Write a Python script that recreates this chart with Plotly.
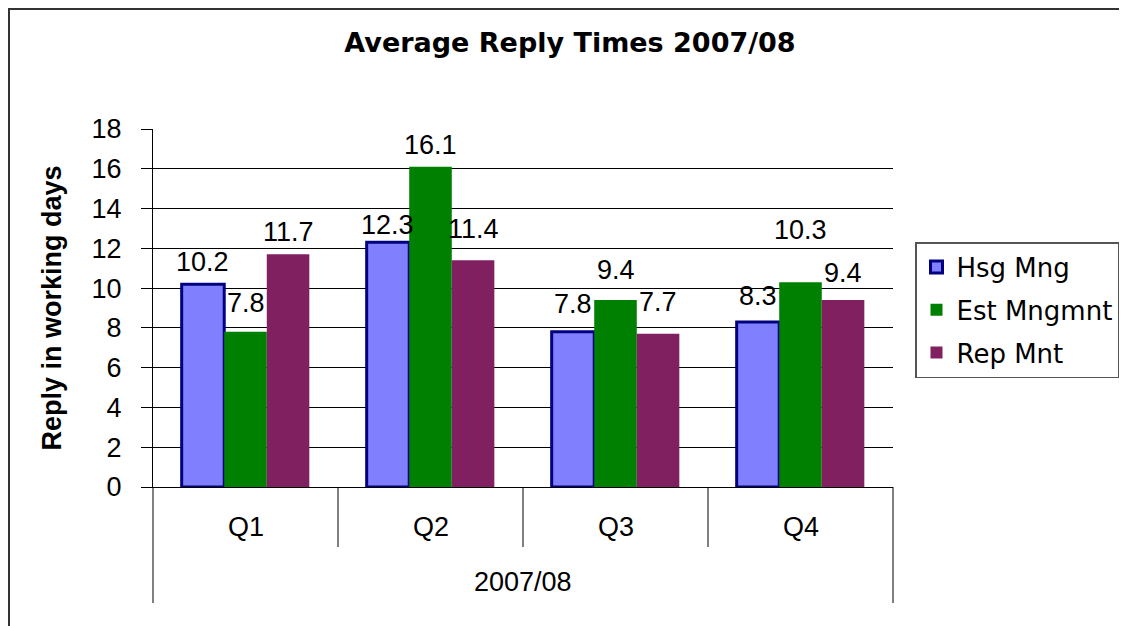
import plotly.graph_objects as go

# ---- data ----
quarters = ["Q1", "Q2", "Q3", "Q4"]
period = "2007/08"
series_names = ["Hsg Mng", "Est Mngmnt", "Rep Mnt"]
hsg_mng = [10.2, 12.3, 7.8, 8.3]
est_mngmnt = [7.8, 16.1, 9.4, 10.3]
rep_mnt = [11.7, 11.4, 7.7, 9.4]
y_ticks = [0, 2, 4, 6, 8, 10, 12, 14, 16, 18]

# ---- style ----
PAD = 8                       # default page body margin
W, H = 1127 - PAD, 626 - PAD  # figure size so the page fits the window
# plot-area edges in window pixels
L, R, T, B = 153, 893, 129, 487
pw, ph = R - L, B - T
colors = ["#8080FF", "#008000", "#802060"]
BARGAP = 0.31
# pixel distance of each label centre above its bar top (per series, per quarter)
label_lift = [
    [22, 17, 28, 26],
    [29, 22, 30, 52],
    [22, 31, 32, 27],
]
ARIAL = "Liberation Sans, Arial, sans-serif"
DEJAVU = "DejaVu Sans, sans-serif"


def px_x(px):
    return (px - L) / pw


def px_y(py):
    return (B - py) / ph


values = [hsg_mng, est_mngmnt, rep_mnt]

fig = go.Figure()
for i, (name, vals) in enumerate(zip(series_names, values)):
    line = dict(color="#000080", width=3) if i == 0 else dict(width=0)
    fig.add_trace(go.Bar(
        name=name, x=quarters, y=vals,
        marker=dict(color=colors[i], line=line),
        legendgroup=name,
    ))

annotations = []
bw = (1 - BARGAP) / 3
for s, vals in enumerate(values):
    for q, v in enumerate(vals):
        annotations.append(dict(
            x=q + (s - 1) * bw, y=v, xref="x", yref="y",
            text=f"{v:.1f}", showarrow=False, yanchor="middle",
            yshift=label_lift[s][q],
            font=dict(family=ARIAL, size=27, color="black"),
        ))

# category labels below the axis
for q, name in enumerate(quarters):
    annotations.append(dict(
        x=name, y=px_y(527), xref="x", yref="paper", text=name,
        showarrow=False, yanchor="middle",
        font=dict(family=ARIAL, size=27, color="black"),
    ))
annotations.append(dict(
    x=0.5, y=px_y(582), xref="x domain", yref="paper", text=period,
    showarrow=False, yanchor="middle",
    font=dict(family=ARIAL, size=27, color="black"),
))

shapes = []
# outer chart frame
shapes.append(dict(type="rect", xref="paper", yref="paper",
                   x0=px_x(9), x1=px_x(1150), y0=px_y(660), y1=px_y(9),
                   line=dict(color="#333333", width=2), layer="below"))
# category divider lines
n = len(quarters)
for k in range(n + 1):
    bottom = 603 if k in (0, n) else 547
    shapes.append(dict(type="line", xref="x domain", yref="paper",
                       x0=k / n, x1=k / n, y0=0, y1=px_y(bottom),
                       line=dict(color="#000000", width=1)))

fig.update_layout(
    width=W, height=H,
    margin=dict(l=L - PAD, r=W - (R - PAD), t=T - PAD, b=H - (B - PAD),
                autoexpand=False),
    paper_bgcolor="white", plot_bgcolor="white",
    barmode="group", bargap=BARGAP, bargroupgap=0,
    title=dict(text="<b>Average Reply Times 2007/08</b>",
               x=(570 - PAD) / W, xref="container", xanchor="center",
               y=1 - (43 - PAD) / H, yref="container", yanchor="middle",
               font=dict(family=DEJAVU, size=27, color="black")),
    legend=dict(x=px_x(915), y=px_y(242), xanchor="left", yanchor="top",
                xref="paper", yref="paper",
                bgcolor="white", bordercolor="#555555", borderwidth=1.5,
                font=dict(family=DEJAVU, size=26, color="black"),
                traceorder="grouped", tracegroupgap=6),
    annotations=annotations,
    shapes=shapes,
    showlegend=True,
)
fig.update_xaxes(type="category", range=[-0.5, 3.5], showticklabels=False,
                 showline=True, linecolor="black", linewidth=1, ticks="",
                 showgrid=False, zeroline=False)
fig.update_yaxes(range=[0, 18], tickvals=y_ticks, showgrid=True,
                 gridcolor="black", gridwidth=1, showline=True,
                 linecolor="black", linewidth=1, ticks="outside", ticklen=11,
                 tickcolor="black", zeroline=False, ticklabelstandoff=14,
                 tickfont=dict(family=ARIAL, size=27, color="black"),
                 title=dict(text="<b>Reply in working days</b>", standoff=22,
                            font=dict(family=ARIAL, size=27, color="black")))

fig.write_html("out.html")
